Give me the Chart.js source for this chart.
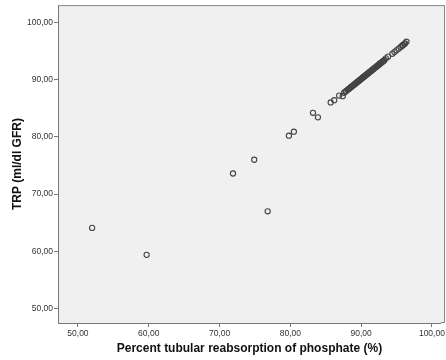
<!DOCTYPE html>
<html>
<head>
<meta charset="utf-8">
<script src="https://cdn.jsdelivr.net/npm/chart.js@4"></script>
<style>
  html, body { margin: 0; padding: 0; background: #fff; }
  #wrap { width: 446px; height: 360px; }
</style>
</head>
<body>
<div id="wrap"><canvas id="chart" width="446" height="360"></canvas></div>
<script>
// Percent tubular reabsorption of phosphate (%)
const tubularReabsorption = [
  52.0, 59.7, 71.9, 74.9, 76.8, 79.8, 80.5, 83.2, 83.9, 85.7, 86.2, 86.9, 87.4,
  87.6, 87.9, 88.1, 88.3, 88.5, 88.7, 88.9, 89.0, 89.2, 89.4, 89.5, 89.7, 89.9,
  90.0, 90.2, 90.3, 90.5, 90.6, 90.8, 91.0, 91.1, 91.3, 91.5, 91.6, 91.8, 92.0,
  92.2, 92.4, 92.6, 92.8, 93.0, 93.3, 93.5, 93.8, 94.4, 94.7, 95.0, 95.3, 95.6,
  95.9, 96.1, 96.4,
  87.8, 88.2, 88.6, 89.1, 89.3, 89.6, 89.8, 90.1, 90.4, 90.7, 90.9, 91.2, 91.4,
  91.7, 91.9, 92.1, 92.3, 92.5, 92.7, 92.9, 93.1, 93.2, 95.8, 96.2
];
// TRP (ml/dl GFR)
const trp = [
  64.1, 59.4, 73.6, 76.0, 67.0, 80.2, 80.9, 84.2, 83.4, 86.0, 86.4, 87.2, 87.1,
  87.7, 88.0, 88.2, 88.4, 88.6, 88.8, 89.0, 89.1, 89.3, 89.5, 89.6, 89.8, 90.0,
  90.1, 90.3, 90.4, 90.6, 90.7, 90.9, 91.1, 91.2, 91.4, 91.6, 91.7, 91.9, 92.1,
  92.3, 92.5, 92.7, 92.9, 93.1, 93.4, 93.7, 94.0, 94.5, 94.8, 95.1, 95.4, 95.7,
  96.0, 96.2, 96.6,
  87.9, 88.3, 88.7, 89.2, 89.4, 89.7, 89.9, 90.2, 90.5, 90.8, 91.0, 91.3, 91.5,
  91.8, 92.0, 92.2, 92.4, 92.6, 92.8, 93.0, 93.2, 93.3, 95.9, 96.3
];
const xTicks = [50, 60, 70, 80, 90, 100];
const yTicks = [50, 60, 70, 80, 90, 100];
const xRange = [47.18, 101.27];
const yRange = [47.5, 103.0];

const points = tubularReabsorption.map((x, i) => ({ x: x, y: trp[i] }));
const fmt = (v) => v.toFixed(2).replace(".", ",");

// Grey plot panel with a frame, like SPSS output (runs to the right edge)
const plotFrame = {
  id: "plotFrame",
  beforeDraw(chart) {
    const a = chart.chartArea;
    const ctx = chart.ctx;
    ctx.save();
    ctx.fillStyle = "#f0f0f0";
    ctx.fillRect(a.left, a.top, chart.width - 1 - a.left, a.bottom - a.top);
    ctx.restore();
  },
  afterDraw(chart) {
    const a = chart.chartArea;
    const ctx = chart.ctx;
    const right = chart.width - 1;
    ctx.save();
    ctx.strokeStyle = "#888";
    ctx.lineWidth = 1;
    ctx.beginPath();
    ctx.moveTo(a.left, a.top + 0.5);
    ctx.lineTo(right, a.top + 0.5);
    ctx.moveTo(right - 0.5, a.top);
    ctx.lineTo(right - 0.5, a.bottom);
    ctx.moveTo(a.right, a.bottom - 0.5);
    ctx.lineTo(right, a.bottom - 0.5);
    ctx.stroke();
    ctx.restore();
  },
};

const tickFont = { family: "'Liberation Sans', Arial, sans-serif", size: 8.5 };
const titleFont = { family: "'Liberation Sans', Arial, sans-serif", size: 12, weight: "bold" };

new Chart(document.getElementById("chart").getContext("2d"), {
  type: "scatter",
  data: {
    datasets: [
      {
        data: points,
        pointRadius: 2.6,
        pointBorderWidth: 1.1,
        pointBorderColor: "#444",
        pointBackgroundColor: "rgba(0,0,0,0)",
      },
    ],
  },
  options: {
    responsive: false,
    animation: false,
    layout: { padding: { top: 5, right: 0, left: 0, bottom: 0 } },
    plugins: { legend: { display: false }, tooltip: { enabled: false } },
    scales: {
      x: {
        type: "linear",
        bounds: "data",
        min: xRange[0],
        max: xRange[1],
        afterBuildTicks: (s) => {
          s.ticks = xTicks.map((v) => ({ value: v }));
          s.min = xRange[0];
          s.max = xRange[1];
        },
        afterFit: (s) => {
          s.height = 37;
          s.paddingLeft = 0;
          s.paddingRight = 1;
        },
        border: { color: "#777", width: 1 },
        grid: { drawOnChartArea: false, tickLength: 4, color: "#777" },
        ticks: { color: "#333", font: tickFont, padding: 2, maxRotation: 0, callback: (v) => fmt(v) },
        title: { display: true, text: "Percent tubular reabsorption of phosphate (%)", color: "#111", font: titleFont, padding: 4 },
      },
      y: {
        type: "linear",
        bounds: "data",
        min: yRange[0],
        max: yRange[1],
        afterBuildTicks: (s) => {
          s.ticks = yTicks.map((v) => ({ value: v }));
          s.min = yRange[0];
          s.max = yRange[1];
        },
        afterFit: (s) => {
          s.width = 58;
          s.paddingTop = 0;
          s.paddingBottom = 0;
        },
        border: { color: "#777", width: 1 },
        grid: { drawOnChartArea: false, tickLength: 4, color: "#777" },
        ticks: { color: "#333", font: tickFont, padding: 1, callback: (v) => fmt(v) },
        title: { display: true, text: "TRP (ml/dl GFR)", color: "#111", font: titleFont, padding: 10 },
      },
    },
  },
  plugins: [plotFrame],
});
</script>
</body>
</html>
